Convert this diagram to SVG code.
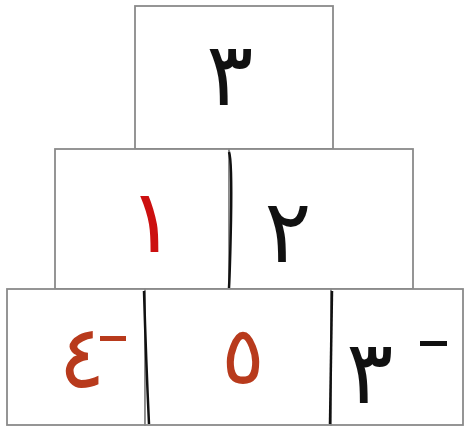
<svg xmlns="http://www.w3.org/2000/svg" width="466" height="430" viewBox="0 0 466 430">
<style>
.box{fill:#fff;stroke:#8a8a8a;stroke-width:1.8}
.div{fill:none;stroke:#111;stroke-width:2.5}
.num{font-family:"DejaVu Sans",sans-serif;font-size:88px;text-anchor:middle}
.blk{fill:#111}
.red{fill:#cc1010}
.brn{fill:#b83a1c}
</style>
<rect width="466" height="430" fill="#fff"/>
<g id="top">
<rect class="box" x="135" y="6" width="198" height="143"/>
<text class="num blk" x="230" y="105" direction="ltr">٣</text>
</g>
<g id="mid-left">
<rect class="box" x="55" y="149" width="174" height="140"/>
<text class="num red" x="152" y="252" direction="ltr">١</text>
</g>
<g id="mid-right">
<rect class="box" x="229" y="149" width="184" height="140"/>
<text class="num blk" x="288" y="262" direction="ltr">٢</text>
</g>
<g id="bot-left">
<rect class="box" x="7" y="289" width="138" height="136"/>
<text class="num brn" x="82" y="387" direction="ltr">٤</text>
<rect class="brn" x="100" y="336" width="26" height="5"/>
</g>
<g id="bot-mid">
<rect class="box" x="145" y="289" width="186" height="136"/>
<text class="num brn" x="243" y="383" direction="ltr" style="font-size:80px">٥</text>
</g>
<g id="bot-right">
<rect class="box" x="331" y="289" width="132" height="136"/>
<text class="num blk" x="370" y="403" direction="ltr">٣</text>
<rect class="blk" x="420" y="341" width="27" height="5"/>
</g>
<g id="connectors">
<path class="div" d="M229 152 Q232 160 231 220 Q230 270 229 288"/>
<path class="div" d="M144 291 Q146 360 149 424"/>
<path class="div" d="M332 291 Q331 360 330 424"/>
</g>
</svg>
